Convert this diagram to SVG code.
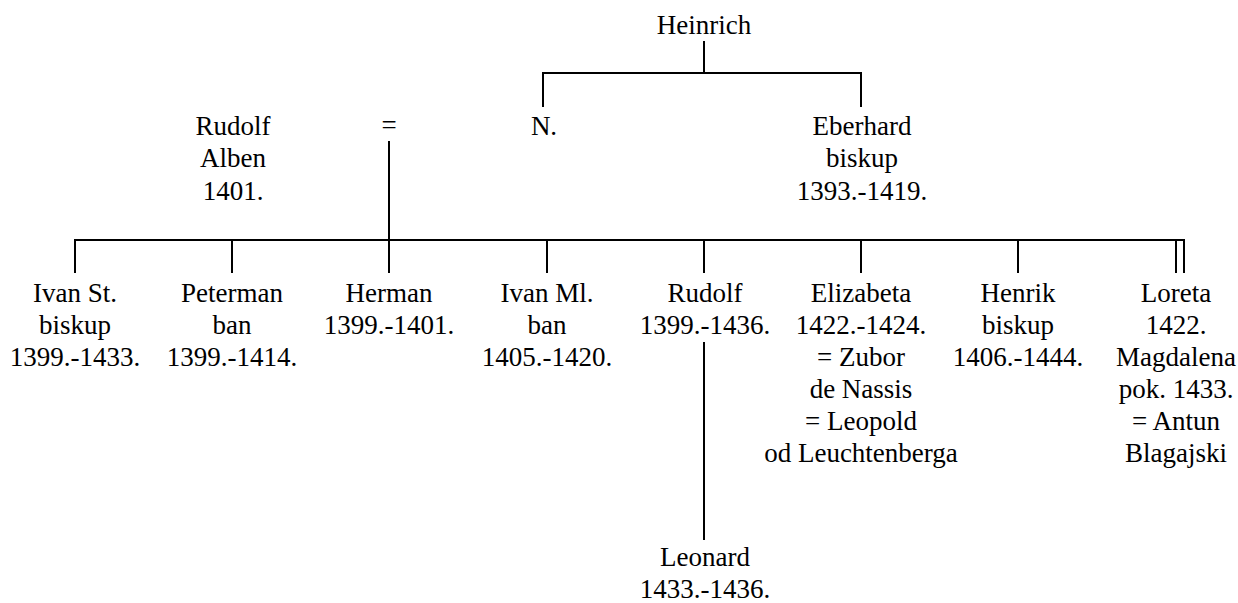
<svg xmlns="http://www.w3.org/2000/svg" width="1238" height="603" viewBox="0 0 1238 603">
<style>
.t text{font-family:'Liberation Serif','DejaVu Serif',serif;font-size:27px;fill:#000;text-anchor:middle}
.c line{stroke:#000;stroke-width:2}
</style>
<rect width="1238" height="603" fill="#fff"/>
<g class="c" id="connectors">
<line x1="704" y1="41" x2="704" y2="73"/>
<line x1="542" y1="73" x2="862" y2="73"/>
<line x1="543" y1="72" x2="543" y2="107"/>
<line x1="861" y1="72" x2="861" y2="107"/>
<line x1="389" y1="141" x2="389" y2="273"/>
<line x1="74" y1="240" x2="1185" y2="240"/>
<line x1="75" y1="239" x2="75" y2="273"/>
<line x1="232" y1="239" x2="232" y2="273"/>
<line x1="547" y1="239" x2="547" y2="273"/>
<line x1="704" y1="239" x2="704" y2="273"/>
<line x1="861" y1="239" x2="861" y2="273"/>
<line x1="1018" y1="239" x2="1018" y2="273"/>
<line x1="1176" y1="239" x2="1176" y2="273"/>
<line x1="1184" y1="239" x2="1184" y2="273"/>
<line x1="704" y1="342" x2="704" y2="540"/>
</g>
<g class="t" font-family="Liberation Serif, DejaVu Serif, serif">
<g id="heinrich"><text x="704" y="34">Heinrich</text></g>
<g id="n"><text x="544" y="135">N.</text></g>
<g id="eberhard"><text x="862" y="135">Eberhard</text><text x="862" y="167">biskup</text><text x="862" y="200">1393.-1419.</text></g>
<g id="rudolf-alben"><text x="233" y="135">Rudolf</text><text x="233" y="167">Alben</text><text x="233" y="200">1401.</text></g>
<g id="marriage"><text x="389" y="134">=</text></g>
<g id="ivan-st"><text x="75" y="302">Ivan St.</text><text x="75" y="334">biskup</text><text x="75" y="366">1399.-1433.</text></g>
<g id="peterman"><text x="232" y="302">Peterman</text><text x="232" y="334">ban</text><text x="232" y="366">1399.-1414.</text></g>
<g id="herman"><text x="389" y="302">Herman</text><text x="389" y="334">1399.-1401.</text></g>
<g id="ivan-ml"><text x="547" y="302">Ivan Ml.</text><text x="547" y="334">ban</text><text x="547" y="366">1405.-1420.</text></g>
<g id="rudolf"><text x="705" y="302">Rudolf</text><text x="705" y="334">1399.-1436.</text></g>
<g id="elizabeta"><text x="861" y="302">Elizabeta</text><text x="861" y="334">1422.-1424.</text><text x="861" y="366">= Zubor</text><text x="861" y="398">de Nassis</text><text x="861" y="430">= Leopold</text><text x="861" y="462">od Leuchtenberga</text></g>
<g id="henrik"><text x="1018" y="302">Henrik</text><text x="1018" y="334">biskup</text><text x="1018" y="366">1406.-1444.</text></g>
<g id="loreta"><text x="1176" y="302">Loreta</text><text x="1176" y="334">1422.</text><text x="1176" y="366">Magdalena</text><text x="1176" y="398">pok. 1433.</text><text x="1176" y="430">= Antun</text><text x="1176" y="462">Blagajski</text></g>
<g id="leonard"><text x="705" y="566">Leonard</text><text x="705" y="598">1433.-1436.</text></g>
</g>
</svg>
